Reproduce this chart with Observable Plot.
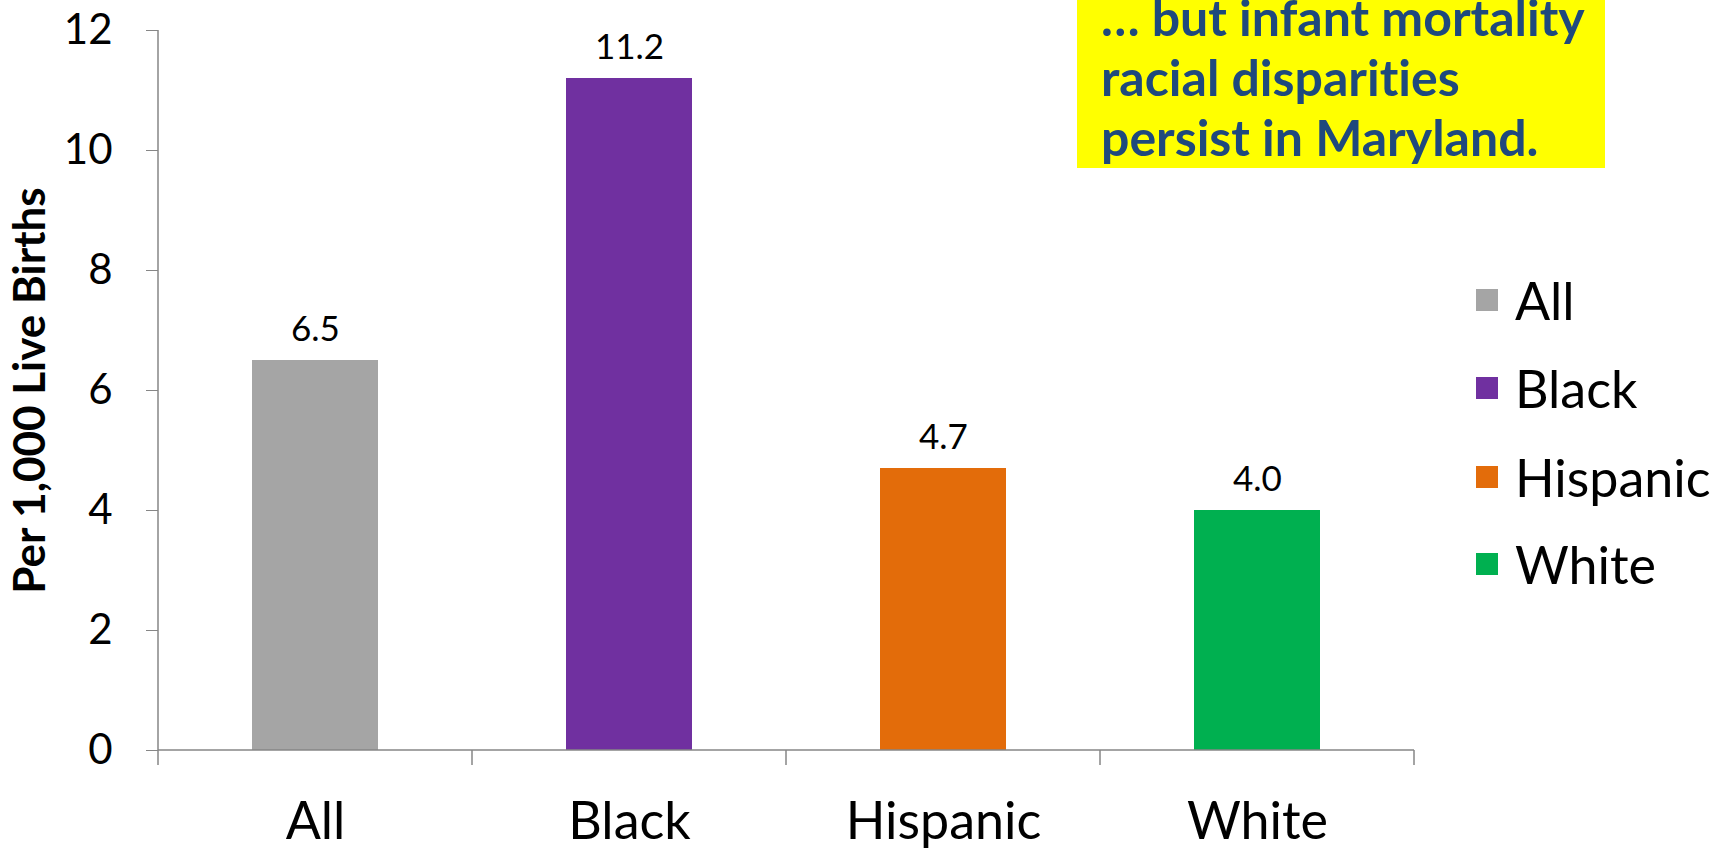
<!DOCTYPE html>
<html>
<head>
<meta charset="utf-8">
<script src="https://cdn.jsdelivr.net/npm/d3@7"></script>
<script src="https://cdn.jsdelivr.net/npm/@observablehq/plot@0.6"></script>
<style>
  html, body { margin: 0; padding: 0; background: #fff; }
  #wrap { position: relative; width: 1730px; height: 851px; overflow: hidden; font-family: Lato, "Open Sans", sans-serif; font-variant-ligatures: none; }
  #note {
    position: absolute; left: 1077px; top: 0; width: 528px; height: 168px;
    background: #FFFF00; overflow: hidden;
  }
  #note .txt {
    position: absolute; left: 24px; top: -13px;
    color: #1F497D; font-weight: 700; font-size: 50px; line-height: 60px;
    font-variant-ligatures: none;
  }
  #note .txt div { white-space: nowrap; }
  #legend { position: absolute; left: 1476px; top: 0; }
  .row { position: absolute; left: 0; display: flex; align-items: center; height: 60px; white-space: nowrap; }
  .sw { width: 22px; height: 22px; margin-right: 17px; }
  .lab { font-size: 52px; color: #000; }
</style>
</head>
<body>
<div id="wrap"></div>
<script>
// Maryland infant mortality rate by race/ethnicity, per 1,000 live births
const categories = ["All", "Black", "Hispanic", "White"];
const rates = [6.5, 11.2, 4.7, 4.0];
const colors = ["#A5A5A5", "#7030A0", "#E36C0A", "#00B050"];
const yTicks = [0, 2, 4, 6, 8, 10, 12];
const yTitle = "Per 1,000 Live Births";
const noteLines = ["… but infant mortality", "racial disparities", "persist in Maryland."];

const rows = categories.map((c, i) => ({group: c, rate: rates[i]}));
const axisColor = "#868686";

// baseline plus category boundary ticks, placed from the band scale
function categoryAxisLine(index, scales, values, dimensions) {
  const right = dimensions.width - dimensions.marginRight;
  const y0 = scales.y(0);
  const xs = categories.map(c => scales.x(c)).concat([right]);
  const g = d3.create("svg:g");
  g.selectAll("line").data(xs).join("line")
    .attr("x1", d => d).attr("x2", d => d)
    .attr("y1", y0).attr("y2", y0 + 15)
    .attr("stroke", axisColor).attr("stroke-width", 1.5);
  g.append("line")
    .attr("x1", dimensions.marginLeft).attr("x2", right)
    .attr("y1", y0).attr("y2", y0)
    .attr("stroke", axisColor).attr("stroke-width", 1.5);
  // vertical value axis line
  g.append("line")
    .attr("x1", dimensions.marginLeft).attr("x2", dimensions.marginLeft)
    .attr("y1", scales.y(12)).attr("y2", y0)
    .attr("stroke", axisColor).attr("stroke-width", 1.5);
  return g.node();
}

const chart = Plot.plot({
  width: 1730,
  height: 851,
  marginLeft: 158,
  marginRight: 316,
  marginTop: 30,
  marginBottom: 101,
  style: {fontFamily: "Lato, 'Open Sans', sans-serif", color: "#000", background: "transparent"},
  x: {domain: categories, padding: 0},
  y: {domain: [0, 12]},
  color: {domain: categories, range: colors},
  marks: [
    Plot.barY(rows, {x: "group", y: "rate", fill: "group", insetLeft: 94, insetRight: 94}),
    Plot.text(rows, {x: "group", y: "rate", text: d => d.rate.toFixed(1), dy: -31, fontSize: 35, fill: "#000"}),
    Plot.axisY({ticks: yTicks, tickSize: 12, tickPadding: 34, fontSize: 42, label: null, stroke: axisColor, tickFormat: d => String(d)}),
    Plot.axisX({tickSize: 0, tickPadding: 52, fontSize: 52, label: null}),
    categoryAxisLine,
    Plot.text([yTitle], {frameAnchor: "left", rotate: -90, dx: -128, textAnchor: "middle", fontSize: 44, fontWeight: "bold", fill: "#000"})
  ]
});

const wrap = document.getElementById("wrap");
wrap.appendChild(chart);

// annotation box
const note = document.createElement("div");
note.id = "note";
const txt = document.createElement("div");
txt.className = "txt";
noteLines.forEach(t => { const d = document.createElement("div"); d.textContent = t; txt.appendChild(d); });
note.appendChild(txt);
wrap.appendChild(note);

// legend
const legend = document.createElement("div");
legend.id = "legend";
const rowCenters = [300, 388, 477, 564];
categories.forEach((c, i) => {
  const r = document.createElement("div");
  r.className = "row";
  r.style.top = (rowCenters[i] - 30) + "px";
  const s = document.createElement("div");
  s.className = "sw";
  s.style.background = colors[i];
  const l = document.createElement("span");
  l.className = "lab";
  l.textContent = c;
  r.appendChild(s); r.appendChild(l);
  legend.appendChild(r);
});
wrap.appendChild(legend);
</script>
</body>
</html>
